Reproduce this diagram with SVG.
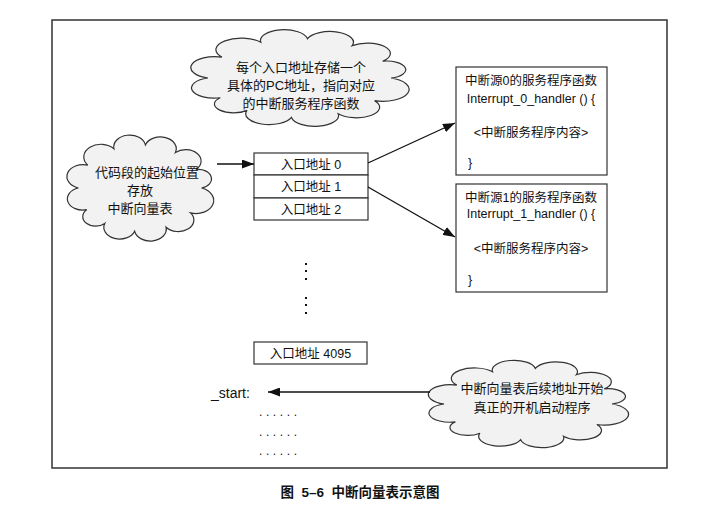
<svg xmlns="http://www.w3.org/2000/svg" width="724" height="517" viewBox="0 0 724 517">
<style>
text{font-family:"Liberation Sans","Noto Sans CJK SC",sans-serif;fill:#111;}
.c{font-size:13px;text-anchor:middle;}
.b{font-size:12.5px;text-anchor:middle;}
.cloud{fill:#f2f2f2;stroke:#333;stroke-width:1.2;}
.box{fill:#fff;stroke:#333;stroke-width:1.2;}
.ln{stroke:#111;stroke-width:1.3;fill:none;marker-end:url(#ah);}
</style>
<defs>
<marker id="ah" markerUnits="userSpaceOnUse" markerWidth="12" markerHeight="9" refX="12" refY="4.5" orient="auto">
<path d="M0,0 L12,4.5 L0,9 z" fill="#111"/>
</marker>
<path id="cl" vector-effect="non-scaling-stroke" d="M90,50 A1,1 0 0 1 82.8,71.8 A1,1 0 0 1 66.9,84.4 A1,1 0 0 1 46.5,87.9 A1,1 0 0 1 27.1,81.1 A1,1 0 0 1 15.4,69 A1,1 0 0 1 10,50 A1,1 0 0 1 16.1,29.9 A1,1 0 0 1 33.1,15.6 A1,1 0 0 1 53.5,12.2 A1,1 0 0 1 73,18.9 A1,1 0 0 1 86.3,33.9 A1,1 0 0 1 90,50 Z"/>
</defs>
<rect width="724" height="517" fill="#fff"/>
<rect id="frame" x="52" y="20" width="615" height="448" fill="#fff" stroke="#333" stroke-width="1.5"/>

<g id="cloud-top">
<use href="#cl" class="cloud" transform="translate(185,26) scale(2.29,1.04)"/>
<text class="c" x="301" y="72">每个入口地址存储一个</text>
<text class="c" x="301" y="90">具体的PC地址，指向对应</text>
<text class="c" x="301" y="108">的中断服务程序函数</text>
</g>

<g id="cloud-left">
<use href="#cl" class="cloud" transform="translate(63,131) scale(1.54,1.14)"/>
<text class="c" x="147" y="177">代码段的起始位置</text>
<text class="c" x="140" y="195">存放</text>
<text class="c" x="140" y="213">中断向量表</text>
</g>

<g id="cloud-bottom">
<use href="#cl" class="cloud" transform="translate(423,357) scale(2.1,0.94)"/>
<text class="c" x="532" y="393">中断向量表后续地址开始</text>
<text class="c" x="532" y="412">真正的开机启动程序</text>
</g>

<g id="entry0"><rect class="box" x="254" y="153" width="114" height="22"/><text class="b" x="311" y="168.5">入口地址 0</text></g>
<g id="entry1"><rect class="box" x="254" y="175" width="114" height="23"/><text class="b" x="311" y="191">入口地址 1</text></g>
<g id="entry2"><rect class="box" x="254" y="198" width="114" height="22"/><text class="b" x="311" y="213.5">入口地址 2</text></g>

<g id="vdots" fill="#111">
<rect x="305" y="263" width="2" height="2"/>
<rect x="305" y="270" width="2" height="2"/>
<rect x="305" y="278" width="2" height="2"/>
<rect x="305" y="297" width="2" height="2"/>
<rect x="305" y="304" width="2" height="2"/>
<rect x="305" y="312" width="2" height="2"/>
</g>

<g id="entry4095"><rect class="box" x="254" y="342" width="113" height="22"/><text class="b" x="310.5" y="357.5">入口地址 4095</text></g>

<g id="handler0">
<rect class="box" x="456" y="67" width="151" height="108"/>
<text class="b" x="531" y="84.5">中断源0的服务程序函数</text>
<text class="b" x="531" y="102.5">Interrupt_0_handler () {</text>
<text class="b" x="531" y="136.5">&lt;中断服务程序内容&gt;</text>
<text class="b" x="470" y="166.5">}</text>
</g>

<g id="handler1">
<rect class="box" x="456" y="184" width="151" height="108"/>
<text class="b" x="531" y="201.5">中断源1的服务程序函数</text>
<text class="b" x="531" y="217.5">Interrupt_1_handler () {</text>
<text class="b" x="531" y="252.5">&lt;中断服务程序内容&gt;</text>
<text class="b" x="470" y="283.5">}</text>
</g>

<g id="start">
<text x="211" y="398" style="font-size:14px">_start:</text>
<text x="259" y="416" style="font-size:12px;letter-spacing:3.6px">......</text>
<text x="259" y="436" style="font-size:12px;letter-spacing:3.6px">......</text>
<text x="259" y="455" style="font-size:12px;letter-spacing:3.6px">......</text>
</g>

<g id="connectors">
<line class="ln" x1="217" y1="164" x2="254" y2="164"/>
<line class="ln" x1="368" y1="163" x2="455" y2="123"/>
<line class="ln" x1="368" y1="187" x2="455" y2="237"/>
<line class="ln" x1="430" y1="392" x2="268" y2="392"/>
</g>

<text id="caption" x="360" y="497" style="font-size:13.5px;font-weight:bold;text-anchor:middle;white-space:pre">图  5–6  中断向量表示意图</text>
</svg>
